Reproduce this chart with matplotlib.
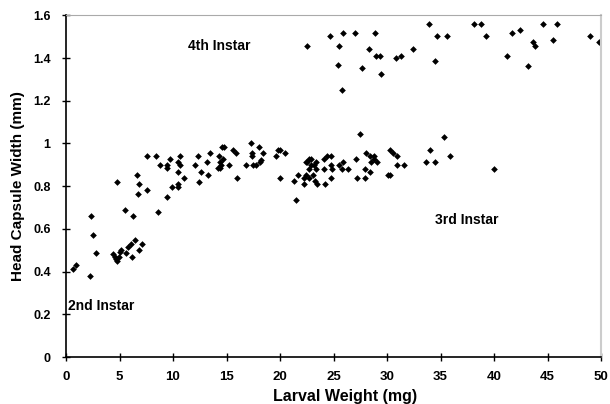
import matplotlib
matplotlib.use("Agg")
import matplotlib.pyplot as plt

# 2nd / 3rd instar region, then 4th instar
weight = [
    0.68, 0.93, 2.27, 2.34, 2.55, 2.84, 4.77,
    4.4, 4.6, 4.7, 4.8, 4.95, 5.0, 5.14, 5.54, 5.58, 5.79, 6.04, 6.14, 6.23, 6.42,
    6.82, 7.1, 6.64, 6.82, 6.7, 7.6, 7.6, 8.44, 8.63, 8.79, 9.47, 9.47, 9.4, 9.72,
    9.9, 10.5, 10.5, 10.7, 10.5, 10.5, 10.7, 11.0, 12.1, 12.3, 12.4, 12.6, 13.2,
    13.3, 13.5, 14.3, 14.2, 14.4, 14.4, 14.5, 14.55, 14.8, 14.7, 15.2, 15.6, 15.85,
    16.0, 16.8, 17.3, 17.35, 17.35, 17.45, 17.76, 18.0, 18.1,
    18.45, 18.2, 19.6, 19.8, 20.0, 20.5, 19.97, 21.3, 21.5, 21.7, 22.2, 22.2, 22.4,
    22.4, 22.55, 22.7, 22.9, 22.7, 22.7, 22.9, 23.2, 23.4, 23.1, 23.3, 23.5, 23.4,
    24.1, 24.4, 24.8, 24.1, 24.2, 24.8, 24.9, 24.8, 25.5, 25.8, 25.9, 26.4, 27.1,
    27.2, 27.5, 27.9, 27.9, 28.0, 28.4, 28.4, 28.5, 28.8, 28.8, 29.1, 30.1, 30.3,
    30.3, 30.6, 30.9, 30.9, 31.6, 33.6, 34.5, 34.0, 35.3, 35.9, 40.0,
    22.55, 24.7, 25.9, 27.0, 28.9, 25.5, 28.3, 29.0, 29.3, 25.4, 27.7, 29.4, 25.8,
    30.8, 31.3, 32.4, 33.9, 34.7, 35.6, 34.5, 38.1, 38.8, 39.25, 41.65, 42.4, 41.2,
    43.6, 43.8, 43.2, 44.55, 45.5, 45.9, 49.0, 49.8,
]
width = [
    0.41, 0.43, 0.38, 0.66, 0.57, 0.486, 0.82,
    0.48, 0.47, 0.46, 0.45, 0.47, 0.49, 0.50, 0.69, 0.486, 0.515, 0.53, 0.47, 0.66, 0.547,
    0.50, 0.53, 0.853, 0.81, 0.765, 0.78, 0.943, 0.943, 0.678, 0.90, 0.90, 0.884, 0.751, 0.926,
    0.795, 0.81, 0.795, 0.943, 0.912, 0.868, 0.90, 0.839, 0.90, 0.943, 0.82, 0.868, 0.912,
    0.853, 0.956, 0.943, 0.884, 0.884, 0.912, 0.90, 0.985, 0.985, 0.926, 0.90, 0.97, 0.956,
    0.839, 0.90, 1.0, 0.956, 0.943, 0.90, 0.90, 0.985, 0.912,
    0.955, 0.923, 0.942, 0.97, 0.97, 0.955, 0.839, 0.823, 0.734, 0.853, 0.839, 0.809, 0.853,
    0.912, 0.912, 0.926, 0.926, 0.882, 0.839, 0.90, 0.90, 0.912, 0.853, 0.823, 0.809, 0.882,
    0.926, 0.942, 0.942, 0.882, 0.809, 0.90, 0.882, 0.839, 0.90, 0.882, 0.912, 0.882, 0.926,
    0.839, 1.044, 0.882, 0.839, 0.955, 0.942, 0.868, 0.912, 0.942, 0.926, 0.912, 0.853, 0.853,
    0.97, 0.955, 0.942, 0.90, 0.90, 0.912, 0.912, 0.97, 1.031, 0.942, 0.882,
    1.457, 1.503, 1.515, 1.515, 1.515, 1.457, 1.442, 1.41, 1.41, 1.368, 1.354, 1.323, 1.25,
    1.398, 1.409, 1.442, 1.56, 1.503, 1.503, 1.384, 1.56, 1.56, 1.503, 1.515, 1.53, 1.409,
    1.473, 1.457, 1.364, 1.56, 1.485, 1.56, 1.503, 1.473,
]

x_ticks = [0, 5, 10, 15, 20, 25, 30, 35, 40, 45, 50]
y_ticks = [0, 0.2, 0.4, 0.6, 0.8, 1.0, 1.2, 1.4, 1.6]
y_tick_labels = ["0", "0.2", "0.4", "0.6", "0.8", "1", "1.2", "1.4", "1.6"]
annotations = [("2nd Instar", 0.2, 0.24), ("3rd Instar", 34.5, 0.642), ("4th Instar", 11.4, 1.457)]

plt.rcParams['font.family'] = ['Liberation Sans', 'DejaVu Sans']

fig = plt.figure(figsize=(6.10, 4.04), dpi=100)
ax = fig.add_axes([66/610, 1 - 357/404, 535/610, 341.7/404])

ax.plot(weight, width, linestyle='none', marker='D', markersize=3.4,
        color='black', markeredgewidth=0)

ax.set_xlim(0, 50)
ax.set_ylim(0, 1.6)
ax.set_xticks(x_ticks)
ax.set_yticks(y_ticks)
ax.set_yticklabels(y_tick_labels)

for lbl in ax.get_xticklabels():
    lbl.set_fontweight('bold')
    lbl.set_fontsize(9.5)
for lbl in ax.get_yticklabels():
    lbl.set_fontweight('bold')
    lbl.set_fontsize(9)

ax.tick_params(axis='x', direction='inout', length=6, width=1, pad=7)
ax.tick_params(axis='y', direction='inout', length=6, width=1, pad=8)
ax.spines['left'].set_color('black')
ax.spines['bottom'].set_color('black')
ax.spines['left'].set_linewidth(1.2)
ax.spines['bottom'].set_linewidth(1.2)
ax.spines['top'].set_color('#aaaaaa')
ax.spines['right'].set_color('#cccccc')
ax.spines['right'].set_linewidth(1.5)

ax.set_xlabel('Larval Weight (mg)', fontsize=11.5, fontweight='bold')
ax.xaxis.set_label_coords((345 - 66) / 535, -(401 - 357) / 341.7, transform=ax.transAxes)
ax.xaxis.label.set_va('baseline')
ax.set_ylabel('Head Capsule Width (mm)', fontsize=11, fontweight='bold', labelpad=6)

for text, tx, ty in annotations:
    ax.text(tx, ty, text, fontsize=10, fontweight='bold', ha='left', va='center')

fig.savefig('out.png', dpi=100)
